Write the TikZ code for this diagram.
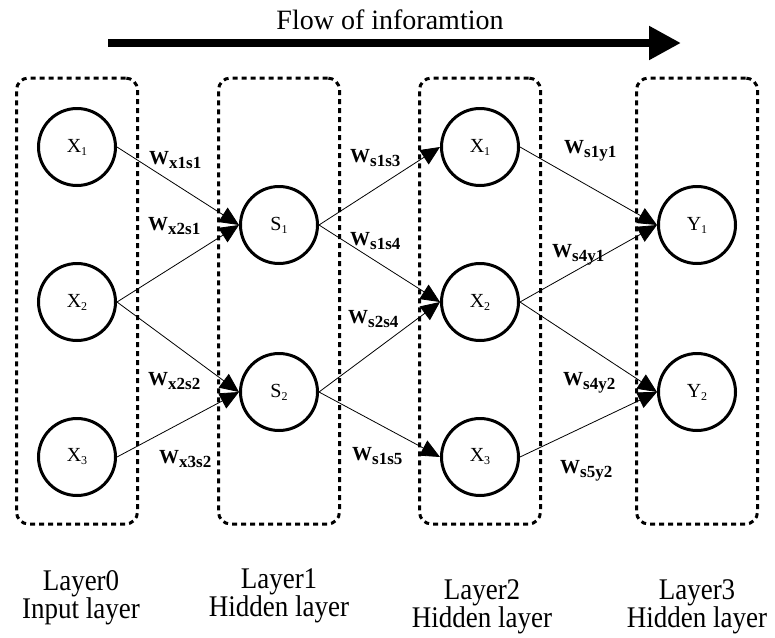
\documentclass[tikz,border=0pt]{standalone}
\usepackage{fontspec}
\setmainfont{Liberation Serif}
\usetikzlibrary{arrows.meta}

% subscripts of the neuron names and of the weights
\newcommand{\nsub}[1]{\raisebox{-3pt}{\fontsize{12}{12}\selectfont #1}}
\newcommand{\wlab}[1]{W\raisebox{-4pt}{\fontsize{17}{17}\selectfont\bfseries #1}}
% caption font: tall, slightly narrowed, fixed line pitch
\newcommand{\capfont}{\fontsize{30}{28}\selectfont\addfontfeature{FakeStretch=0.9}\lineskiplimit=-30pt\relax}

\begin{document}
\begin{tikzpicture}[x=1pt,y=-1pt,
  neuron/.style={circle,draw,line width=3pt,minimum size=77pt,inner sep=0pt,
    font=\fontsize{20}{20}\selectfont},
  layerbox/.style={draw,line width=3pt,dash pattern=on 5pt off 4pt,
    rounded corners=12pt,minimum width=121pt,minimum height=446pt,inner sep=0pt},
  edge/.style={line width=0.8pt,-{Triangle[length=19pt,width=17pt]}},
  wlabel/.style={anchor=base west,inner sep=0pt,
    font=\fontsize{20}{20}\selectfont\bfseries},
  layerlabel/.style={align=center,anchor=north,inner sep=0pt,font=\capfont},
  flow/.style={line width=8pt,-{Triangle[length=32pt,width=32pt]}}
]
\useasboundingbox (0,0) rectangle (775,637);

% title and the flow arrow
\node[anchor=base,inner sep=0pt,font=\fontsize{28}{28}\selectfont] (title) at (390,29) {Flow of inforamtion};
\coordinate (flowstart) at (108,43);
\coordinate (flowend) at (681,43);
\draw[flow] (flowstart) -- (flowend);

% dashed layer frames
\node[layerbox] (box0) at (77,301) {};
\node[layerbox] (box1) at (279,301) {};
\node[layerbox] (box2) at (480,301) {};
\node[layerbox] (box3) at (697,301) {};

% neurons
\node[neuron] (x1) at (77,147) {X\nsub{1}};
\node[neuron] (x2) at (77,302) {X\nsub{2}};
\node[neuron] (x3) at (77,457) {X\nsub{3}};
\node[neuron] (s1) at (279,225) {S\nsub{1}};
\node[neuron] (s2) at (279,392) {S\nsub{2}};
\node[neuron] (h1) at (480,147) {X\nsub{1}};
\node[neuron] (h2) at (480,302) {X\nsub{2}};
\node[neuron] (h3) at (480,457) {X\nsub{3}};
\node[neuron] (y1) at (697,225) {Y\nsub{1}};
\node[neuron] (y2) at (697,392) {Y\nsub{2}};

% connections
\draw[edge] (x1.east) -- (s1.west);
\draw[edge] (x2.east) -- (s1.west);
\draw[edge] (x2.east) -- (s2.west);
\draw[edge] (x3.east) -- (s2.west);
\draw[edge] (s1.east) -- (h1.west);
\draw[edge] (s1.east) -- (h2.west);
\draw[edge] (s2.east) -- (h2.west);
\draw[edge] (s2.east) -- (h3.west);
\draw[edge] (h1.east) -- (y1.west);
\draw[edge] (h2.east) -- (y1.west);
\draw[edge] (h2.east) -- (y2.west);
\draw[edge] (h3.east) -- (y2.west);

% weights
\node[wlabel] (wx1s1) at (149,164) {\wlab{x1s1}};
\node[wlabel] (wx2s1) at (148,230) {\wlab{x2s1}};
\node[wlabel] (wx2s2) at (148,385) {\wlab{x2s2}};
\node[wlabel] (wx3s2) at (159,463) {\wlab{x3s2}};
\node[wlabel] (ws1s3) at (350,162) {\wlab{s1s3}};
\node[wlabel] (ws1s4) at (350,245) {\wlab{s1s4}};
\node[wlabel] (ws2s4) at (348,323) {\wlab{s2s4}};
\node[wlabel] (ws1s5) at (352,460) {\wlab{s1s5}};
\node[wlabel] (ws1y1) at (564,153) {\wlab{s1y1}};
\node[wlabel] (ws4y1) at (552,257) {\wlab{s4y1}};
\node[wlabel] (ws4y2) at (563,385) {\wlab{s4y2}};
\node[wlabel] (ws5y2) at (560,473) {\wlab{s5y2}};

% layer captions
\node[layerlabel] (cap0) at (81,570) {Layer0\\Input layer};
\node[layerlabel] (cap1) at (279,568) {Layer1\\Hidden layer};
\node[layerlabel] (cap2) at (482,579) {Layer2\\Hidden layer};
\node[layerlabel] (cap3) at (697,579) {Layer3\\Hidden layer};
\end{tikzpicture}
\end{document}
